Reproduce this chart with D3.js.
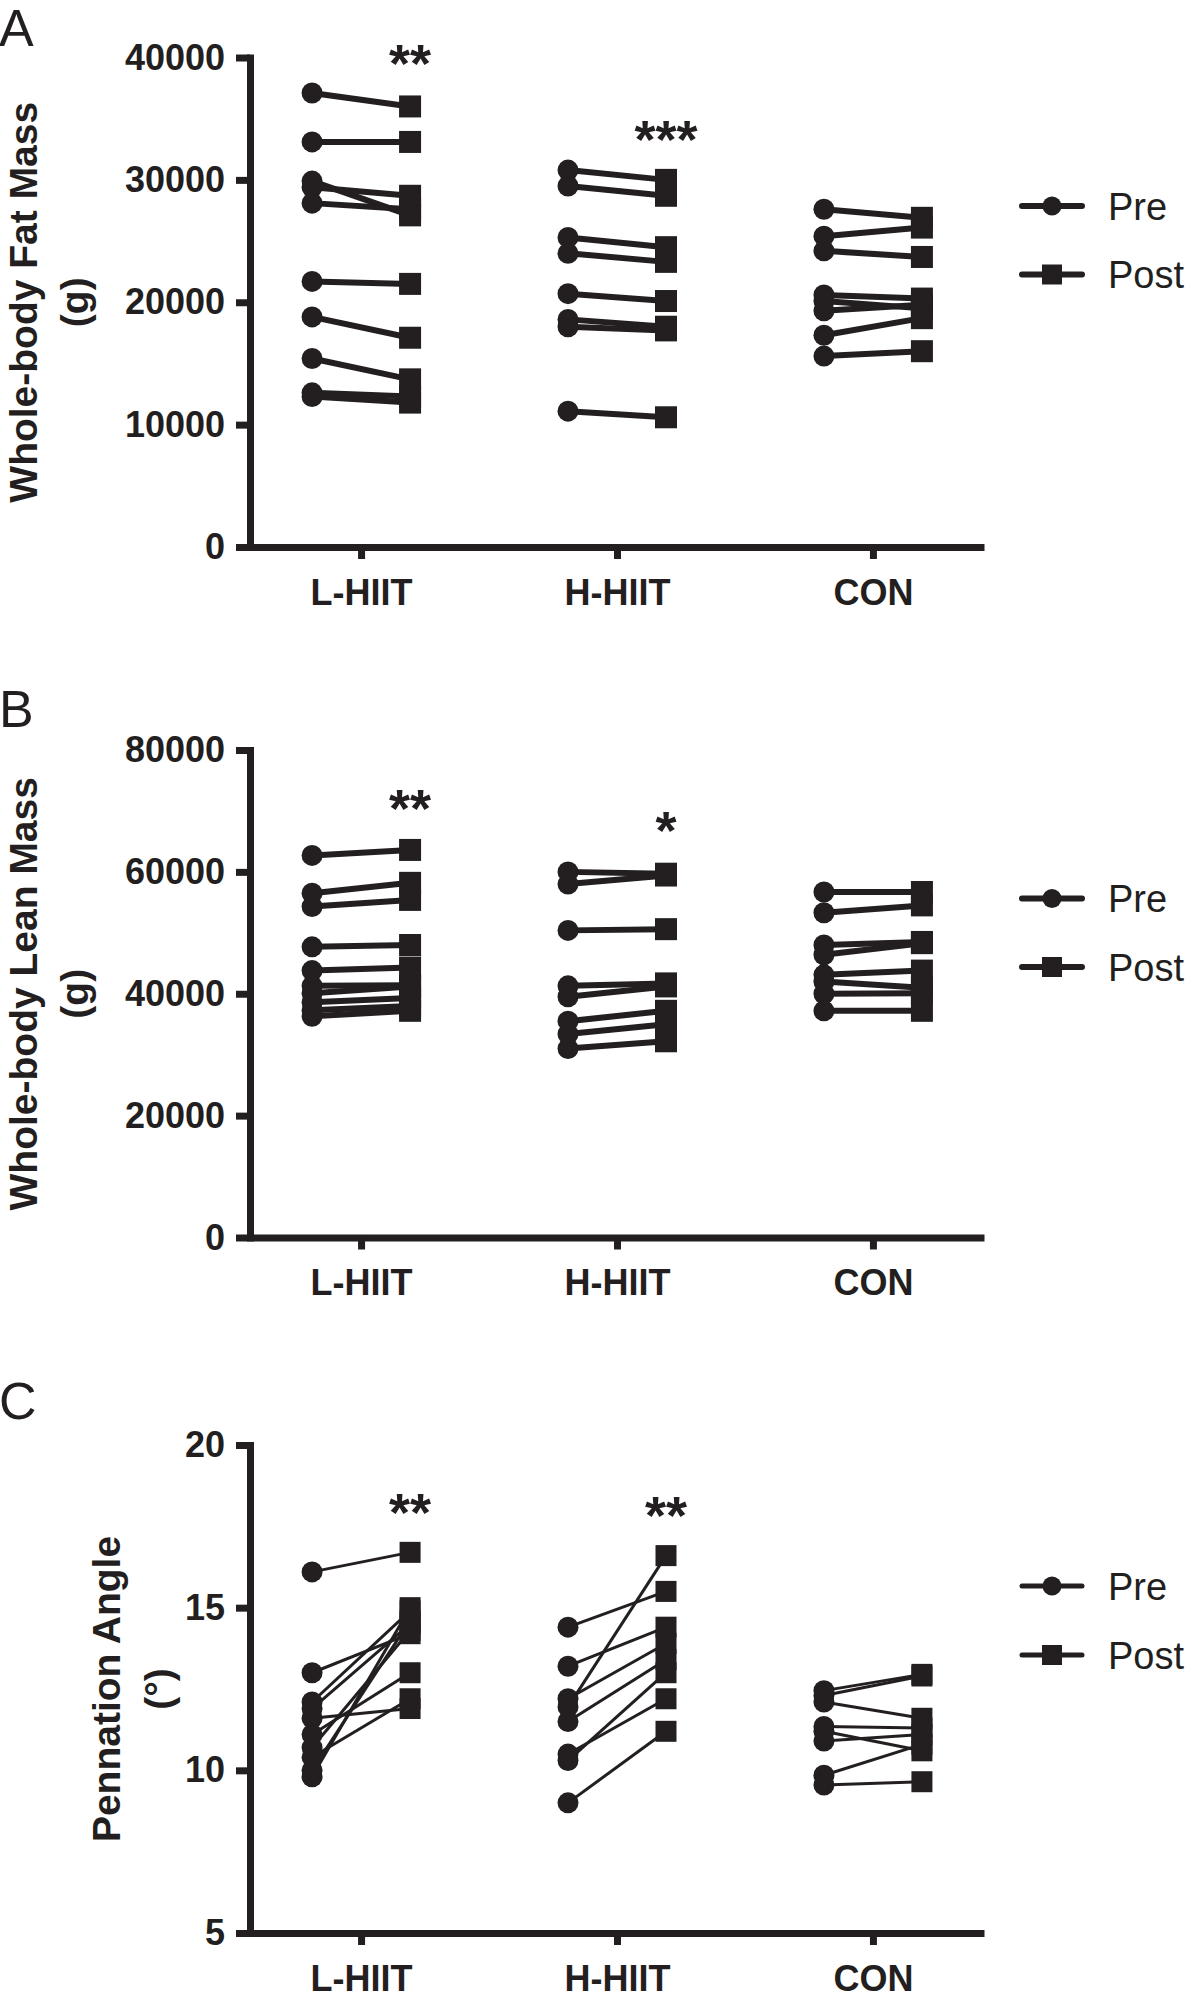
<!DOCTYPE html>
<html>
<head>
<meta charset="utf-8">
<script src="https://cdn.jsdelivr.net/npm/d3@7"></script>
<style>
  html, body { margin: 0; padding: 0; background: #ffffff; }
  svg { display: block; }
  text { font-family: "Liberation Sans", Arial, Helvetica, sans-serif; fill: #231f20; }
</style>
</head>
<body>
<svg id="chart" width="1187" height="1992"></svg>
<script>
// ---------------- DATA ----------------
const groups = ["L-HIIT", "H-HIIT", "CON"];
const times = ["Pre", "Post"];

// Panel A: whole-body fat mass (g)
const fatTicks = [0, 10000, 20000, 30000, 40000];
const fatLHIITPre  = [37100, 33100, 29900, 29400, 28100, 21700, 18800, 15400, 12600, 12300];
const fatLHIITPost = [36000, 33100, 27100, 28700, 27600, 21500, 17100, 13700, 12300, 11800];
const fatHHIITPre  = [30800, 29500, 25300, 24000, 20700, 18600, 18000, 11100];
const fatHHIITPost = [30000, 28700, 24500, 23300, 20100, 18000, 17700, 10600];
const fatCONPre    = [27600, 25400, 24200, 20600, 20100, 19300, 17300, 15600];
const fatCONPost   = [26900, 26100, 23700, 20300, 19500, 19800, 18700, 16000];
const fatStarText   = ["**", "***"];
const fatStarGroup  = ["L-HIIT", "H-HIIT"];
const fatStarValue  = [40530, 34320];

// Panel B: whole-body lean mass (g)
const leanTicks = [0, 20000, 40000, 60000, 80000];
const leanLHIITPre  = [62700, 56500, 54300, 47700, 43800, 41300, 40100, 38600, 37300, 36300];
const leanLHIITPost = [63600, 58200, 55400, 48000, 44300, 41400, 41200, 39300, 38000, 37200];
const leanHHIITPre  = [60000, 58000, 50400, 41300, 39500, 35500, 33400, 31000];
const leanHHIITPost = [59700, 59400, 50600, 41700, 41200, 37200, 35000, 32200];
const leanCONPre    = [56700, 53300, 48000, 46400, 43100, 42000, 40000, 37200];
const leanCONPost   = [56700, 54500, 48500, 48300, 43800, 41000, 40100, 37200];
const leanStarText  = ["**", "*"];
const leanStarGroup = ["L-HIIT", "H-HIIT"];
const leanStarValue = [72500, 68900];

// Panel C: pennation angle (degrees)
const angleTicks = [5, 10, 15, 20];
const angleLHIITPre  = [16.1, 13.0, 12.1, 11.9, 11.6, 11.1, 10.7, 10.4, 10.0, 9.8];
const angleLHIITPost = [16.7, 14.2, 14.9, 14.5, 11.9, 13.0, 14.3, 12.2, 14.6, 15.0];
const angleHHIITPre  = [14.4, 13.2, 12.2, 11.95, 11.5, 10.5, 10.3, 9.0];
const angleHHIITPost = [15.5, 14.4, 13.9, 16.6, 13.4, 12.2, 13.0, 11.2];
const angleCONPre    = [12.45, 12.3, 12.1, 11.35, 11.2, 10.9, 9.85, 9.55];
const angleCONPost   = [12.95, 12.9, 11.6, 11.3, 10.6, 11.1, 10.8, 9.65];
const angleStarText  = ["**", "**"];
const angleStarGroup = ["L-HIIT", "H-HIIT"];
const angleStarValue = [18.31, 18.22];

// ---------------- DRAWING ----------------
const INK = "#231f20";
const FONT = '"Liberation Sans", Arial, Helvetica, sans-serif';
const svg = d3.select("#chart");
svg.append("rect").attr("width", 1187).attr("height", 1992).attr("fill", "#fff");

const x = d3.scalePoint().domain(groups).range([250, 984]).padding(0.434);
const xt = d3.scalePoint().domain(times).range([-49, 49]);

function drawPanel(cfg) {
  const y = d3.scaleLinear().domain(cfg.domain).range(cfg.range);
  const g = svg.append("g");
  const baseY = cfg.range[0];

  // panel letter
  g.append("text").attr("x", -1).attr("y", cfg.letterY)
    .attr("font-size", 52).attr("font-weight", "normal").text(cfg.letter);

  // y axis
  const yAxis = d3.axisLeft(y).tickValues(cfg.ticks).tickFormat(d3.format("d"))
    .tickSize(14).tickSizeOuter(0).tickPadding(11);
  const ya = g.append("g").attr("transform", "translate(250,0)").call(yAxis);
  ya.select(".domain").attr("stroke", INK).attr("stroke-width", 7).attr("stroke-linecap", "square");
  ya.selectAll(".tick line").attr("stroke", INK).attr("stroke-width", 7);
  ya.selectAll(".tick text").attr("font-size", 36).attr("font-weight", "bold")
    .attr("font-family", FONT).attr("fill", INK);

  // x axis
  const xAxis = d3.axisBottom(x).tickSize(12).tickSizeOuter(0).tickPadding(20);
  const xa = g.append("g").attr("transform", `translate(0,${baseY})`).call(xAxis);
  xa.select(".domain").attr("stroke", INK).attr("stroke-width", 7);
  xa.selectAll(".tick line").attr("stroke", INK).attr("stroke-width", 7);
  xa.selectAll(".tick text").attr("font-size", 36).attr("font-weight", "bold")
    .attr("font-family", FONT).attr("fill", INK);

  // y title (two lines, rotated)
  const cy = (cfg.range[0] + cfg.range[1]) / 2;
  cfg.title.forEach((t, i) => {
    g.append("text")
      .attr("transform", `translate(${cfg.titleX[i]},${cy}) rotate(-90)`)
      .attr("text-anchor", "middle").attr("font-size", 39).attr("font-weight", "bold")
      .text(t);
  });

  // paired lines + markers
  cfg.series.forEach(s => {
    const cx = x(s.group);
    const pairs = s.pre.map((v, i) => ({ pre: v, post: s.post[i] }));
    g.append("g").selectAll("line").data(pairs).join("line")
      .attr("x1", cx + xt("Pre")).attr("x2", cx + xt("Post"))
      .attr("y1", d => y(d.pre)).attr("y2", d => y(d.post))
      .attr("stroke", INK).attr("stroke-width", cfg.lineW);
    g.append("g").selectAll("circle").data(s.pre).join("circle")
      .attr("cx", cx + xt("Pre")).attr("cy", d => y(d)).attr("r", cfg.r).attr("fill", INK);
    g.append("g").selectAll("rect").data(s.post).join("rect")
      .attr("x", cx + xt("Post") - cfg.sq / 2).attr("y", d => y(d) - cfg.sq / 2)
      .attr("width", cfg.sq).attr("height", cfg.sq).attr("fill", INK);
  });

  // significance stars
  cfg.stars.text.forEach((t, i) => {
    const fs = 54;
    g.append("text")
      .attr("x", x(cfg.stars.group[i]) + xt("Post"))
      .attr("y", y(cfg.stars.value[i]) + 0.58 * fs)
      .attr("text-anchor", "middle").attr("font-size", fs).attr("font-weight", "bold")
      .text(t);
  });

  // legend
  const lg = g.append("g");
  times.forEach((t, i) => {
    const ly = cfg.legendY[i];
    lg.append("line").attr("x1", 1022).attr("x2", 1082).attr("y1", ly).attr("y2", ly)
      .attr("stroke", INK).attr("stroke-width", cfg.legW).attr("stroke-linecap", "round");
    if (t === "Pre") {
      lg.append("circle").attr("cx", 1052).attr("cy", ly).attr("r", 9.5).attr("fill", INK);
    } else {
      lg.append("rect").attr("x", 1052 - 10).attr("y", ly - 10).attr("width", 20).attr("height", 20).attr("fill", INK);
    }
    lg.append("text").attr("x", 1108).attr("y", ly).attr("dy", "0.36em")
      .attr("font-size", 38).text(t);
  });
}

drawPanel({
  letter: "A", letterY: 45.5,
  domain: [0, 40000], range: [547, 57.5], ticks: fatTicks,
  title: ["Whole-body Fat Mass", "(g)"], titleX: [37, 88],
  lineW: 6, legW: 6, r: 10.5, sq: 22,
  legendY: [206, 274.5],
  series: [
    { group: "L-HIIT", pre: fatLHIITPre, post: fatLHIITPost },
    { group: "H-HIIT", pre: fatHHIITPre, post: fatHHIITPost },
    { group: "CON", pre: fatCONPre, post: fatCONPost }
  ],
  stars: { text: fatStarText, group: fatStarGroup, value: fatStarValue }
});

drawPanel({
  letter: "B", letterY: 727,
  domain: [0, 80000], range: [1237.5, 750], ticks: leanTicks,
  title: ["Whole-body Lean Mass", "(g)"], titleX: [37, 88],
  lineW: 6, legW: 6, r: 10.5, sq: 22,
  legendY: [898.5, 967],
  series: [
    { group: "L-HIIT", pre: leanLHIITPre, post: leanLHIITPost },
    { group: "H-HIIT", pre: leanHHIITPre, post: leanHHIITPost },
    { group: "CON", pre: leanCONPre, post: leanCONPost }
  ],
  stars: { text: leanStarText, group: leanStarGroup, value: leanStarValue }
});

drawPanel({
  letter: "C", letterY: 1419,
  domain: [5, 20], range: [1933, 1445], ticks: angleTicks,
  title: ["Pennation Angle", "(°)"], titleX: [120, 172],
  lineW: 3, legW: 5, r: 10.5, sq: 21,
  legendY: [1586, 1655],
  series: [
    { group: "L-HIIT", pre: angleLHIITPre, post: angleLHIITPost },
    { group: "H-HIIT", pre: angleHHIITPre, post: angleHHIITPost },
    { group: "CON", pre: angleCONPre, post: angleCONPost }
  ],
  stars: { text: angleStarText, group: angleStarGroup, value: angleStarValue }
});
</script>
</body>
</html>
